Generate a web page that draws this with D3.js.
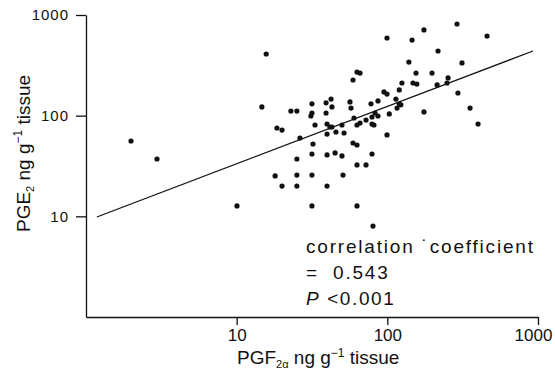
<!DOCTYPE html>
<html>
<head>
<meta charset="utf-8">
<script src="https://cdn.jsdelivr.net/npm/d3@7"></script>
<style>
  body { margin: 0; background: #fff; }
  svg { display: block; font-family: "Liberation Sans", Arial, sans-serif; }
</style>
</head>
<body>
<div id="chart"></div>
<script>
// ============================
// Data
// ============================
const pgf = [1.99, 2.96, 10.05, 15.7, 14.7, 18.5, 20.0, 22.9, 25.1, 31.6,
  31.6, 31.1, 26.3, 33.1, 39.2, 42.3, 42.9, 39.2, 39.8, 41.6,
  42.9, 39.8, 45.6, 51.6, 50.0, 56.5, 57.4, 59.2, 62.9, 65.9,
  60.1, 62.9, 65.9, 77.9, 86.7, 72.2, 79.1, 81.5, 79.1, 82.8,
  86.7, 99.5, 95.0, 99.5, 120, 125, 139, 114, 120, 123,
  116, 103, 146, 175, 290, 217, 313, 155, 198, 148,
  157, 214, 253, 249, 294, 175, 354, 400, 459, 99.5,
  32.1, 31.6, 25.1, 18.0, 20.0, 25.1, 25.1, 31.6, 39.8, 45.0,
  50.0, 39.8, 50.8, 59.2, 62.9, 62.9, 72.2, 79.1, 31.6, 62.9,
  80.3];
const pge = [56.0, 37.1, 12.7, 410, 122, 75.4, 72.0, 111, 111, 131,
  106, 99.2, 60.0, 80.8, 134, 146, 122, 106, 82.6, 77.2,
  77.2, 65.7, 68.8, 67.3, 80.8, 137, 119, 226, 271, 265,
  94.8, 80.8, 84.6, 131, 140, 90.5, 82.6, 80.8, 97.0, 106,
  99.2, 591, 172, 164, 180, 211, 341, 146, 131, 128,
  119, 104, 564, 710, 814, 439, 334, 265, 265, 211,
  206, 202, 237, 211, 168, 109, 119, 82.6, 618, 64.3,
  52.3, 41.6, 37.1, 25.2, 20.0, 25.7, 20.0, 25.7, 40.7, 42.6,
  39.8, 20.0, 25.7, 53.5, 51.1, 32.4, 32.4, 41.6, 12.7, 12.7,
  8.0];

// fitted regression line, end points
const fitX = [1.18, 926];
const fitY = [9.85, 439];

const tickVals = [10, 100, 1000];
const notes = ["correlation \u02d9coefficient", "= \u00a00.543"];

// ============================
// Setup
// ============================
const width = 555, height = 379;

const svg = d3.select("#chart").append("svg")
  .attr("width", width).attr("height", height)
  .attr("viewBox", [0, 0, width, height]);

const xscale = d3.scaleLog().domain([1, 1000]).range([86, 538]);
const yscale = d3.scaleLog().domain([1, 1000]).range([317, 15]);

const points = pgf.map((d, i) => ({x: d, y: pge[i]}));
const fit = fitX.map((d, i) => ({x: d, y: fitY[i]}));

// ============================
// Axes
// ============================
const xAxis = svg.append("g")
  .attr("transform", `translate(0,${yscale(1)})`)
  .call(d3.axisBottom(xscale).tickValues(tickVals).tickFormat(d3.format("d"))
    .tickSize(8).tickSizeOuter(0).tickPadding(4));

const yAxis = svg.append("g")
  .attr("transform", `translate(${xscale(1)},0)`)
  .call(d3.axisLeft(yscale).tickValues(tickVals).tickFormat(d3.format("d"))
    .tickSize(10).tickSizeOuter(0).tickPadding(7));

svg.selectAll(".domain, .tick line")
  .attr("stroke", "#111").attr("stroke-width", 1.3);

xAxis.selectAll(".tick text")
  .attr("font-size", 17).attr("fill", "#111")
  .attr("font-family", "Liberation Sans, Arial, sans-serif")
  .attr("dx", d => d === 1000 ? -5 : 0);
yAxis.selectAll(".tick text")
  .attr("font-size", 15).attr("letter-spacing", 1).attr("fill", "#111")
  .attr("font-family", "Liberation Sans, Arial, sans-serif");

// ============================
// Regression line + points
// ============================
const line = d3.line()
  .x(d => xscale(d.x))
  .y(d => yscale(d.y));

svg.append("path")
  .datum(fit)
  .attr("d", line)
  .attr("fill", "none")
  .attr("stroke", "#111")
  .attr("stroke-width", 1.3);

svg.append("g")
  .selectAll("circle")
  .data(points)
  .join("circle")
  .attr("cx", d => xscale(d.x))
  .attr("cy", d => yscale(d.y))
  .attr("r", 2.6)
  .attr("fill", "#111");

// ============================
// Labels
// ============================
const xLabel = svg.append("text")
  .attr("x", 237).attr("y", 364)
  .attr("font-size", 19).attr("fill", "#111");
xLabel.append("tspan").text("PGF");
xLabel.append("tspan").attr("font-size", 11).attr("dy", 4).text("2\u03b1");
xLabel.append("tspan").attr("dy", -4).text(" ng g");
xLabel.append("tspan").attr("font-size", 12).attr("dy", -7).text("\u22121");
xLabel.append("tspan").attr("dy", 7).text(" tissue");

const yLabel = svg.append("text")
  .attr("transform", "translate(30,232) rotate(-90)")
  .attr("font-size", 19).attr("fill", "#111");
yLabel.append("tspan").text("PGE");
yLabel.append("tspan").attr("font-size", 11).attr("dy", 4).text("2");
yLabel.append("tspan").attr("dy", -4).text(" ng g");
yLabel.append("tspan").attr("font-size", 12).attr("dy", -8).text("\u22121");
yLabel.append("tspan").attr("dy", 8).text(" tissue");

svg.append("g")
  .selectAll("text")
  .data(notes)
  .join("text")
  .attr("x", 306)
  .attr("y", (d, i) => 253 + i * 26)
  .attr("font-size", 19)
  .attr("letter-spacing", 1.8)
  .attr("fill", "#111")
  .text(d => d);

const pText = svg.append("text")
  .attr("x", 306).attr("y", 305)
  .attr("font-size", 19).attr("letter-spacing", 1.6).attr("fill", "#111");
pText.append("tspan").attr("font-style", "italic").text("P");
pText.append("tspan").text(" <0.001");
</script>
</body>
</html>
